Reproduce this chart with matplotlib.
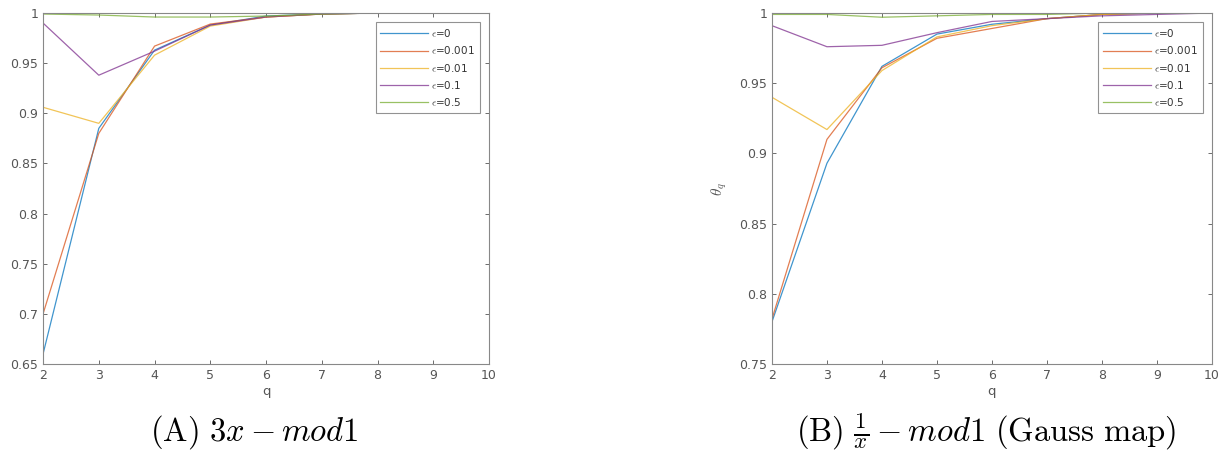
import matplotlib
matplotlib.use("Agg")
import matplotlib.pyplot as plt

plt.rcParams['mathtext.fontset'] = 'cm'

q = [2, 3, 4, 5, 6, 7, 8, 9, 10]
labels = [r'$\epsilon$=0', r'$\epsilon$=0.001', r'$\epsilon$=0.01', r'$\epsilon$=0.1', r'$\epsilon$=0.5']
colors = ['#0072BD', '#D95319', '#EDB120', '#7E2F8E', '#77AC30']

# (A) 3x mod 1
a_eps0 = [0.66, 0.885, 0.963, 0.988, 0.997, 0.999, 1.0, 1.0, 1.0]
a_eps001 = [0.70, 0.880, 0.967, 0.989, 0.996, 0.999, 1.0, 1.0, 1.0]
a_eps01 = [0.906, 0.890, 0.958, 0.987, 0.996, 0.999, 1.0, 1.0, 1.0]
a_eps1 = [0.990, 0.938, 0.962, 0.988, 0.996, 0.999, 1.0, 1.0, 1.0]
a_eps5 = [0.999, 0.998, 0.996, 0.996, 0.997, 0.999, 1.0, 1.0, 1.0]

# (B) Gauss map
b_eps0 = [0.780, 0.893, 0.962, 0.985, 0.992, 0.996, 0.999, 1.0, 1.0]
b_eps001 = [0.782, 0.910, 0.961, 0.982, 0.989, 0.996, 0.999, 1.0, 1.0]
b_eps01 = [0.940, 0.917, 0.959, 0.983, 0.991, 0.996, 0.999, 1.0, 1.0]
b_eps1 = [0.991, 0.976, 0.977, 0.986, 0.994, 0.996, 0.998, 0.999, 1.0]
b_eps5 = [0.999, 0.999, 0.997, 0.998, 0.999, 0.999, 1.0, 1.0, 1.0]

fig = plt.figure(figsize=(12.3, 4.72), dpi=100)
ax1 = fig.add_axes([0.035, 0.2288, 0.3626, 0.7436])
ax2 = fig.add_axes([0.6276, 0.2288, 0.3577, 0.7436])

def style(ax, series, ymin, yticks):
    for s, c, l in zip(series, colors, labels):
        ax.plot(q, s, color=c, lw=0.9, alpha=0.75, label=l)
    ax.set_xlim(2, 10)
    ax.set_ylim(ymin, 1)
    ax.set_xticks(q)
    ax.set_yticks(yticks)
    ax.set_yticklabels([('%g' % t) for t in yticks])
    ax.tick_params(direction='in', top=True, right=True, labelsize=9,
                   colors='#555555', length=3, width=0.6)
    for sp in ax.spines.values():
        sp.set_color('#888888')
        sp.set_linewidth(0.8)
    ax.set_xlabel('q', fontsize=9.5, color='#555555', labelpad=2)
    leg = ax.legend(loc='upper right', fontsize=7.5, frameon=True, fancybox=False,
                    handlelength=4.6, labelspacing=0.5, borderaxespad=0.9,
                    handletextpad=0.3, borderpad=0.45)
    leg.get_frame().set_edgecolor('#777777')
    leg.get_frame().set_linewidth(0.8)
    for t in leg.get_texts():
        t.set_color('#333333')

style(ax1, [a_eps0, a_eps001, a_eps01, a_eps1, a_eps5], 0.65,
      [0.65, 0.7, 0.75, 0.8, 0.85, 0.9, 0.95, 1])
style(ax2, [b_eps0, b_eps001, b_eps01, b_eps1, b_eps5], 0.75,
      [0.75, 0.8, 0.85, 0.9, 0.95, 1])

ax1.set_ylabel(r'$\theta_q$', fontsize=11, color='#555555', labelpad=19)
ax2.set_ylabel(r'$\theta_q$', fontsize=11, color='#555555', labelpad=7)

fig.text(0.207, 0.085, r'$\mathrm{(A)}\ 3x - mod1$', fontsize=23.5,
         ha='center', va='center')
fig.text(0.802, 0.085, r'$\mathrm{(B)}\ \frac{1}{x} - mod1\ \mathrm{(Gauss\ map)}$',
         fontsize=23.5, ha='center', va='center')

fig.savefig('out.png', dpi=100)
